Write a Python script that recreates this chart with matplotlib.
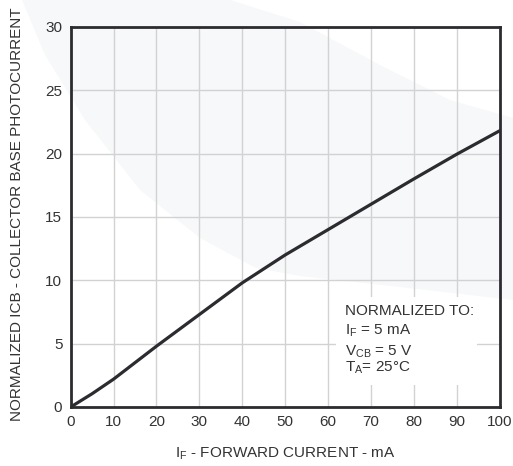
import matplotlib
matplotlib.use("Agg")
import matplotlib.pyplot as plt
from matplotlib.patches import Polygon, Rectangle

plt.rcParams['font.family'] = ['Liberation Sans', 'DejaVu Sans']
plt.rcParams['mathtext.fontset'] = 'custom'
plt.rcParams['mathtext.rm'] = 'Liberation Sans'
plt.rcParams['mathtext.it'] = 'Liberation Sans'
plt.rcParams['mathtext.bf'] = 'Liberation Sans:bold'

# ---- data ----
forward_current_mA = [0, 5, 10, 20, 30, 40, 50, 60, 70, 80, 90, 100]
normalized_icb = [0, 1.05, 2.2, 4.8, 7.3, 9.8, 12.0, 14.0, 16.0, 18.0, 19.95, 21.8]
x_ticks = [0, 10, 20, 30, 40, 50, 60, 70, 80, 90, 100]
y_ticks = [0, 5, 10, 15, 20, 25, 30]
note_lines = ["NORMALIZED TO:",
              r"$\mathrm{I_F}$ = 5 mA",
              r"$\mathrm{V_{CB}}$ = 5 V",
              r"$\mathrm{T_A}$= 25°C"]

W, H = 513, 466
TXT = '#333333'
DARK = '#2b2b30'

fig = plt.figure(figsize=(W / 100, H / 100), dpi=100)
fig.patch.set_facecolor('white')

# faint background watermark band
def px(pts):
    return [(x / W, 1 - y / H) for x, y in pts]

band = [(230, 0), (300, 22), (380, 65), (450, 100), (513, 118),
        (513, 300), (400, 287), (300, 276), (256, 268), (200, 238),
        (140, 190), (85, 120), (45, 55), (22, 0)]
fig.add_artist(Polygon(px(band), closed=True, transform=fig.transFigure,
                       facecolor='#f7f8fa', edgecolor='none', zorder=0))

ax = fig.add_axes([70.7 / W, 1 - 407 / H, (499.5 - 70.7) / W, 380 / H])
ax.set_facecolor('none')
ax.set_zorder(1)

ax.set_xlim(0, 100)
ax.set_ylim(0, 30)
ax.set_xticks(x_ticks)
ax.set_yticks(y_ticks)
ax.set_axisbelow(True)
ax.grid(True, color='#d2d2d2', linewidth=1.0)

# white box behind the note
ax.add_patch(Rectangle((61.9, 1.74), 94.8 - 61.9, 8.68 - 1.74,
                       facecolor='white', edgecolor='none', zorder=1))

ax.plot(forward_current_mA, normalized_icb, color=DARK, linewidth=2.3,
        zorder=3, solid_capstyle='round')

for s in ax.spines.values():
    s.set_color(DARK)
    s.set_linewidth(2.0)
    s.set_zorder(4)

ax.tick_params(length=0, labelsize=11, colors=TXT, pad=6)

ax.set_xlabel(r"$\mathrm{I_F}$ - FORWARD CURRENT - mA", fontsize=11,
              color=TXT, va='baseline')
ax.xaxis.set_label_coords(0.5, (407 - 458) / 380)
ax.set_ylabel("NORMALIZED ICB - COLLECTOR BASE PHOTOCURRENT", fontsize=11,
              color=TXT, va='center')
ax.yaxis.set_label_coords((17.5 - 70.7) / 428.8, (407 - 214) / 380)

baselines = [7.29, 5.71, 4.05, 2.82]
for line, yb in zip(note_lines, baselines):
    ax.text(64.0, yb, line, fontsize=11, color=TXT, ha='left',
            va='baseline', zorder=5)

fig.savefig('out.png', dpi=100)
